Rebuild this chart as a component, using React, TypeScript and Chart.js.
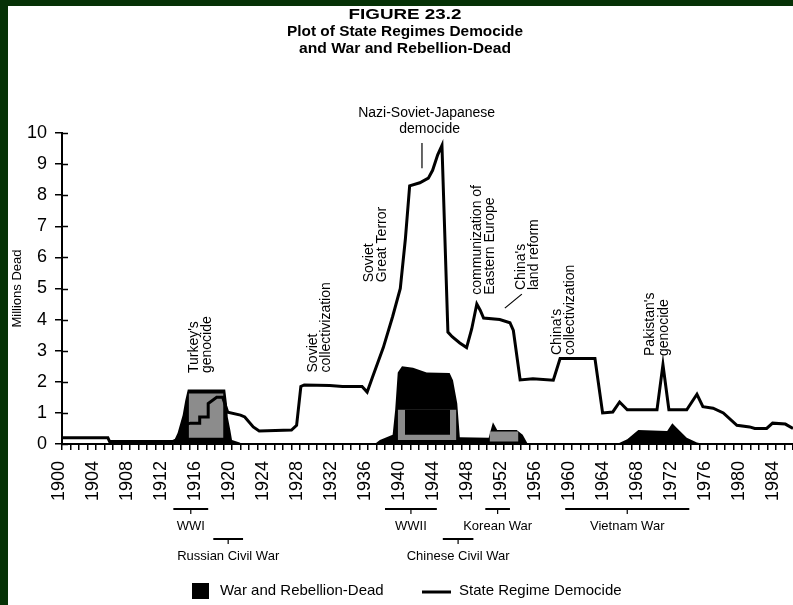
import React, { useEffect, useRef } from "react";
import { Chart, registerables } from "chart.js";

Chart.register(...registerables);

// ---------------- data ----------------
const yearTicksStep = 4;
const yTickValues = [0, 1, 2, 3, 4, 5, 6, 7, 8, 9, 10];

const democideYears = [
  1900, 1905.4, 1905.6, 1913.0, 1913.6, 1914.3, 1915.1, 1916.2, 1916.2, 1917.2, 1917.2, 1918.2, 1918.9,
  1919.5, 1921.0, 1921.5, 1922.5, 1923.2, 1927.0, 1927.6, 1928.1, 1928.5, 1931.5, 1933.0, 1935.3,
  1935.9, 1936.6, 1937.8, 1938.9, 1939.8, 1940.4, 1940.9, 1942.1, 1943.1, 1943.6, 1944.2, 1944.7,
  1945.4, 1945.9, 1946.8, 1947.6, 1948.2, 1948.8, 1949.2, 1949.6, 1951.5, 1952.7, 1953.1, 1953.9,
  1955.4, 1957.8, 1958.6, 1962.7, 1963.6, 1964.8, 1965.6, 1966.5, 1970.0, 1970.7, 1971.4, 1973.5,
  1974.7, 1975.4, 1976.6, 1977.8, 1979.4, 1980.9, 1981.5, 1982.9, 1983.6, 1985.1, 1986,
];
const democideValues = [
  0.2, 0.2, 0.08, 0.08, 0.15, 0.6, 0.67, 0.67, 0.87, 0.87, 1.3, 1.5, 1.5,
  1.02, 0.93, 0.87, 0.55, 0.42, 0.45, 0.6, 1.85, 1.9, 1.88, 1.85, 1.85,
  1.67, 2.2, 3.1, 4.1, 5.0, 6.6, 8.3, 8.4, 8.55, 8.8, 9.3, 9.6,
  3.6, 3.45, 3.25, 3.1, 3.7, 4.5, 4.3, 4.05, 4.0, 3.9, 3.65, 2.06,
  2.1, 2.05, 2.75, 2.75, 1.0, 1.03, 1.35, 1.1, 1.1, 2.55, 1.1, 1.1,
  1.6, 1.2, 1.15, 1.0, 0.6, 0.55, 0.5, 0.5, 0.67, 0.64, 0.5,
];

const warYears = [
  1900, 1913.0, 1913.6, 1914.2, 1914.5, 1914.8, 1919.2, 1919.4, 1919.5, 1919.8, 1920.0, 1920.9, 1921.2,
  1936.8, 1937.4, 1938.9, 1939.2, 1939.5, 1940.0, 1941.3, 1942.9, 1945.6, 1946.0, 1946.5, 1946.8,
  1950.2, 1950.4, 1950.7, 1951.2, 1953.5, 1954.2, 1954.8, 1965.3, 1966.5, 1967.8, 1971.2, 1971.8,
  1972.4, 1973.5, 1974.7, 1975.5, 1986,
];
const warValues = [
  0, 0, 0.35, 0.93, 1.4, 1.75, 1.75, 1.3, 0.87, 0.45, 0.13, 0.05, 0,
  0, 0.13, 0.3, 1.1, 2.3, 2.5, 2.45, 2.3, 2.28, 2.05, 1.3, 0.22,
  0.2, 0.4, 0.7, 0.45, 0.45, 0.3, 0, 0, 0.15, 0.45, 0.42, 0.67,
  0.5, 0.2, 0.05, 0, 0,
];

// grey shading inside the war-dead area (years, top values, base value)
const turkeyGreyYears = [1914.9, 1919.0];
const turkeyGreyValues = [1.62, 1.62];
const turkeyGreyBase = 0.2;
const wwiiGreyYears = [1939.5, 1946.4];
const wwiiGreyValues = [1.1, 1.1];
const wwiiGreyBase = 0.13;
const wwiiInnerYears = [1940.35, 1945.65];
const wwiiInnerValues = [1.1, 1.1];
const wwiiInnerBase = 0.3;
const koreaGreyYears = [1950.3, 1953.7];
const koreaGreyValues = [0.4, 0.4];
const koreaGreyBase = 0.08;

// rotated event labels
const eventLabels = [
  ["Turkey's", "genocide"],
  ["Soviet", "collectivization"],
  ["Soviet", "Great Terror"],
  ["communization of", "Eastern Europe"],
  ["China's", "land reform"],
  ["China's", "collectivization"],
  ["Pakistan's", "genocide"],
];
const eventYears = [1915.5, 1929.5, 1936.1, 1948.8, 1954.0, 1958.2, 1969.2];
const eventValues = [2.28, 2.3, 5.2, 4.8, 4.95, 2.86, 2.83];

const nazi = ["Nazi-Soviet-Japanese", "democide"];
const naziYear = 1942.9;
const naziPointerYear = 1942.35;
const naziPointerValues = [9.68, 8.87];
const landReformPointerYears = [1952.1, 1954.1];
const landReformPointerValues = [4.37, 4.82];

// wars under the axis
const warNames = ["WWI", "Russian Civil War", "WWII", "Korean War", "Chinese Civil War", "Vietnam War"];
const warStart = [1913.1, 1917.8, 1938.0, 1949.8, 1944.8, 1959.2];
const warEnd = [1917.2, 1921.3, 1944.1, 1952.7, 1948.4, 1973.8];
const warRow = [0, 1, 0, 0, 1, 0];

const titleLines = ["FIGURE 23.2", "Plot of State Regimes Democide", "and War and Rebellion-Dead"];
const legendLabels = ["War and Rebellion-Dead", "State Regime Democide"];

const toXY = (xs: number[], ys: number[]) => xs.map((x, i) => ({ x, y: ys[i] }));

const GREEN = "#063206";
const GREY = "#8c8c8c";

const overlay = {
  id: "overlay",
  afterDraw(chart: any) {
    const { ctx, scales } = chart;
    const x = scales.x;
    const y = scales.y;
    ctx.save();
    ctx.fillStyle = "#000";
    ctx.strokeStyle = "#000";

    // inner part of y ticks
    ctx.lineWidth = 1.5;
    yTickValues.forEach((v) => {
      const py = Math.round(y.getPixelForValue(v)) + 0.5;
      ctx.beginPath();
      ctx.moveTo(x.left, py);
      ctx.lineTo(x.left + 6, py);
      ctx.stroke();
    });

    // title
    const tW = [113, 236, 212];
    const tY = [15, 32, 49];
    titleLines.forEach((t, i) => {
      ctx.font = "bold 15px 'Liberation Sans', Arial, sans-serif";
      const w = ctx.measureText(t).width;
      ctx.save();
      ctx.translate(405, tY[i]);
      ctx.scale(tW[i] / w, 1);
      ctx.textAlign = "center";
      ctx.textBaseline = "middle";
      ctx.fillText(t, 0, 0);
      ctx.restore();
    });

    // rotated event labels
    ctx.font = "14px 'Liberation Sans', Arial, sans-serif";
    eventLabels.forEach((lines, i) => {
      const px = x.getPixelForValue(eventYears[i]);
      const py = y.getPixelForValue(eventValues[i]);
      ctx.save();
      ctx.translate(px, py);
      ctx.rotate(-Math.PI / 2);
      ctx.textAlign = "left";
      ctx.textBaseline = "middle";
      lines.forEach((l, j) => ctx.fillText(l, 0, j * 13.5));
      ctx.restore();
    });

    // Nazi label
    const nx = x.getPixelForValue(naziYear);
    ctx.textAlign = "center";
    ctx.textBaseline = "middle";
    ctx.fillText(nazi[0], nx, y.top - 20);
    ctx.fillText(nazi[1], nx + 3, y.top - 4);
    ctx.lineWidth = 1.2;
    ctx.beginPath();
    ctx.moveTo(x.getPixelForValue(naziPointerYear), y.getPixelForValue(naziPointerValues[0]));
    ctx.lineTo(x.getPixelForValue(naziPointerYear), y.getPixelForValue(naziPointerValues[1]));
    ctx.stroke();
    ctx.beginPath();
    ctx.moveTo(x.getPixelForValue(landReformPointerYears[0]), y.getPixelForValue(landReformPointerValues[0]));
    ctx.lineTo(x.getPixelForValue(landReformPointerYears[1]), y.getPixelForValue(landReformPointerValues[1]));
    ctx.stroke();

    // war brackets
    ctx.font = "13px 'Liberation Sans', Arial, sans-serif";
    ctx.lineWidth = 2;
    const base = y.bottom;
    warNames.forEach((name, i) => {
      const x0 = x.getPixelForValue(warStart[i]);
      const x1 = x.getPixelForValue(warEnd[i]);
      const xm = (x0 + x1) / 2;
      const ly = base + (warRow[i] === 0 ? 65 : 95);
      ctx.beginPath();
      ctx.moveTo(x0, ly);
      ctx.lineTo(x1, ly);
      ctx.stroke();
      ctx.lineWidth = 1.2;
      ctx.beginPath();
      ctx.moveTo(xm, ly);
      ctx.lineTo(xm, ly + 5);
      ctx.stroke();
      ctx.lineWidth = 2;
      ctx.textAlign = "center";
      ctx.textBaseline = "middle";
      ctx.fillText(name, xm, ly + 17);
    });

    // legend
    const legY = 591;
    ctx.fillRect(192, legY - 8, 17, 16);
    ctx.font = "15px 'Liberation Sans', Arial, sans-serif";
    ctx.textAlign = "left";
    ctx.textBaseline = "middle";
    ctx.fillText(legendLabels[0], 220, legY);
    ctx.lineWidth = 3;
    ctx.beginPath();
    ctx.moveTo(422, legY + 1);
    ctx.lineTo(451, legY + 1);
    ctx.stroke();
    ctx.fillText(legendLabels[1], 459, legY);

    ctx.restore();
  },
};

export default function App() {
  const ref = useRef<HTMLCanvasElement>(null);
  useEffect(() => {
    if (!ref.current) return;
    const areaDs = (data: any, color: string, fill: any, order: number) => ({
      type: "line",
      data,
      borderWidth: 0,
      borderColor: color,
      backgroundColor: color,
      fill,
      pointRadius: 0,
      tension: 0,
      order,
    });
    const chart = new Chart(ref.current, {
      type: "line",
      data: {
        datasets: [
          {
            label: legendLabels[1],
            data: toXY(democideYears, democideValues),
            borderColor: "#000",
            borderWidth: 3,
            pointRadius: 0,
            fill: false,
            tension: 0,
            order: 0,
          } as any,
          areaDs(toXY(wwiiInnerYears, wwiiInnerValues), "#000", { value: wwiiInnerBase }, 1),
          areaDs(toXY(turkeyGreyYears, turkeyGreyValues), GREY, { value: turkeyGreyBase }, 2),
          areaDs(toXY(wwiiGreyYears, wwiiGreyValues), GREY, { value: wwiiGreyBase }, 2),
          areaDs(toXY(koreaGreyYears, koreaGreyValues), GREY, { value: koreaGreyBase }, 2),
          { ...areaDs(toXY(warYears, warValues), "#000", "origin", 3), label: legendLabels[0] },
        ],
      },
      options: {
        animation: false,
        responsive: false,
        devicePixelRatio: 1,
        layout: { padding: { top: 133, left: 0, right: 0, bottom: 0 } },
        plugins: { legend: { display: false }, tooltip: { enabled: false }, title: { display: false } },
        scales: {
          x: {
            type: "linear",
            min: 1900,
            max: 1986,
            afterFit: (s: any) => {
              s.height = 161;
              s.paddingLeft = 0;
              s.paddingRight = 0;
            },
            border: { display: true, color: "#000", width: 2 },
            grid: { drawOnChartArea: false, drawTicks: true, tickLength: 6, color: "#000", lineWidth: 1.5 },
            ticks: {
              stepSize: 1,
              autoSkip: false,
              minRotation: 90,
              maxRotation: 90,
              padding: 11,
              labelOffset: -3,
              color: "#000",
              font: { family: "'Liberation Sans', Arial, sans-serif", size: 18 },
              callback: (v: any) => (Number(v) % yearTicksStep === 0 ? String(v) : ""),
            },
          },
          y: {
            min: 0,
            max: 10,
            afterFit: (s: any) => {
              s.width = 62;
              s.paddingTop = 0;
              s.paddingBottom = 0;
            },
            border: { display: true, color: "#000", width: 2 },
            grid: { drawOnChartArea: false, drawTicks: true, tickLength: 7, color: "#000", lineWidth: 1.5 },
            ticks: {
              stepSize: 1,
              padding: 8,
              color: "#000",
              font: { family: "'Liberation Sans', Arial, sans-serif", size: 18 },
            },
            title: {
              display: true,
              text: "Millions Dead",
              color: "#000",
              padding: { top: 10, bottom: 0 },
              font: { family: "'Liberation Sans', Arial, sans-serif", size: 13 },
            },
          },
        },
      } as any,
      plugins: [overlay],
    });
    return () => chart.destroy();
  }, []);

  return (
    <div style={{ position: "fixed", left: 0, top: 0, width: 793, height: 605, background: "#fff", overflow: "hidden" }}>
      <div style={{ position: "absolute", left: 0, top: 0, width: 8, height: 605, background: GREEN }} />
      <div style={{ position: "absolute", left: 0, top: 0, width: 793, height: 6, background: GREEN }} />
      <canvas ref={ref} width={793} height={605} style={{ position: "absolute", left: 0, top: 0, width: 793, height: 605 }} />
    </div>
  );
}
